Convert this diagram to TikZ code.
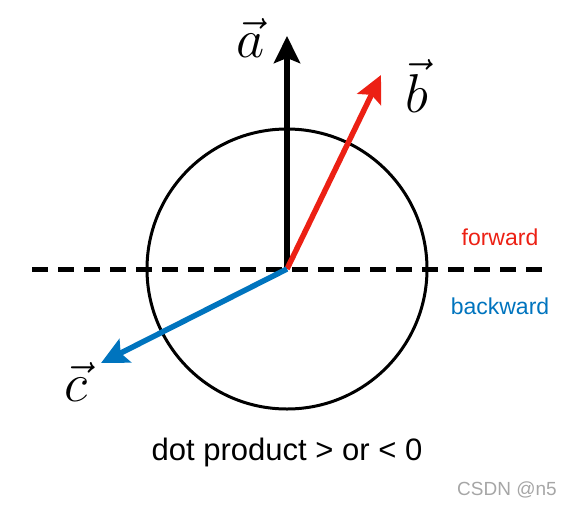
\documentclass[tikz,border=0pt]{standalone}
\usepackage{fontspec}
\setsansfont{Liberation Sans}
\usepackage{tikz}
\usetikzlibrary{arrows.meta, positioning, calc}

\definecolor{fwdred}{RGB}{236,32,20}
\definecolor{bwdblue}{RGB}{0,116,190}

\newcommand{\biglab}[1]{\scalebox{2.2}{$\vec{#1}$}}

\tikzset{
  vec/.style={line width=5.5pt, -{Stealth[length=27pt, width=26pt, inset=5pt]}},
  veclabel/.style={font=\fontsize{24.88}{24.88}\selectfont},
  sidelabel/.style={font=\sffamily\fontsize{23}{23}\selectfont}
}

\begin{document}
\begin{tikzpicture}[x=1pt, y=-1pt]

% ── Canvas ──────────────────────────────────────────────────
\useasboundingbox (0,0) rectangle (568,507);

% ── Circle and split line ───────────────────────────────────
\coordinate (o) at (287,269);
\draw[line width=3pt] (o) circle (140);
\coordinate (left) at (32,269);
\coordinate (right) at (545,269);
\draw[line width=5pt, dash pattern=on 16pt off 10pt] (left) -- (right);

% ── Vectors ─────────────────────────────────────────────────
\coordinate (atip) at (287,36);
\coordinate (btip) at (381,75);
\coordinate (ctip) at (101,363);
\draw[vec, black] (o) -- (atip);
\draw[vec, fwdred] (o) -- (btip);
\draw[vec, bwdblue] (o) -- (ctip);

\node[veclabel] (alab) at (251,38) {\biglab{a}};
\node[veclabel] (blab) at (417,86) {\biglab{b}};
\node[veclabel] (clab) at (76,382) {\biglab{c}};

% ── Side labels ─────────────────────────────────────────────
\node[sidelabel, text=fwdred] (fwd) at (500,237) {forward};
\node[sidelabel, text=bwdblue] (bwd) at (500,306) {backward};

% ── Caption ─────────────────────────────────────────────────
\node[font=\sffamily\fontsize{31}{31}\selectfont] (cap) at (287,452)
  {dot product > or < 0};
\node[font=\sffamily\fontsize{19}{19}\selectfont, text=gray!70] (mark) at (507,490)
  {CSDN @n5};

\end{tikzpicture}
\end{document}
